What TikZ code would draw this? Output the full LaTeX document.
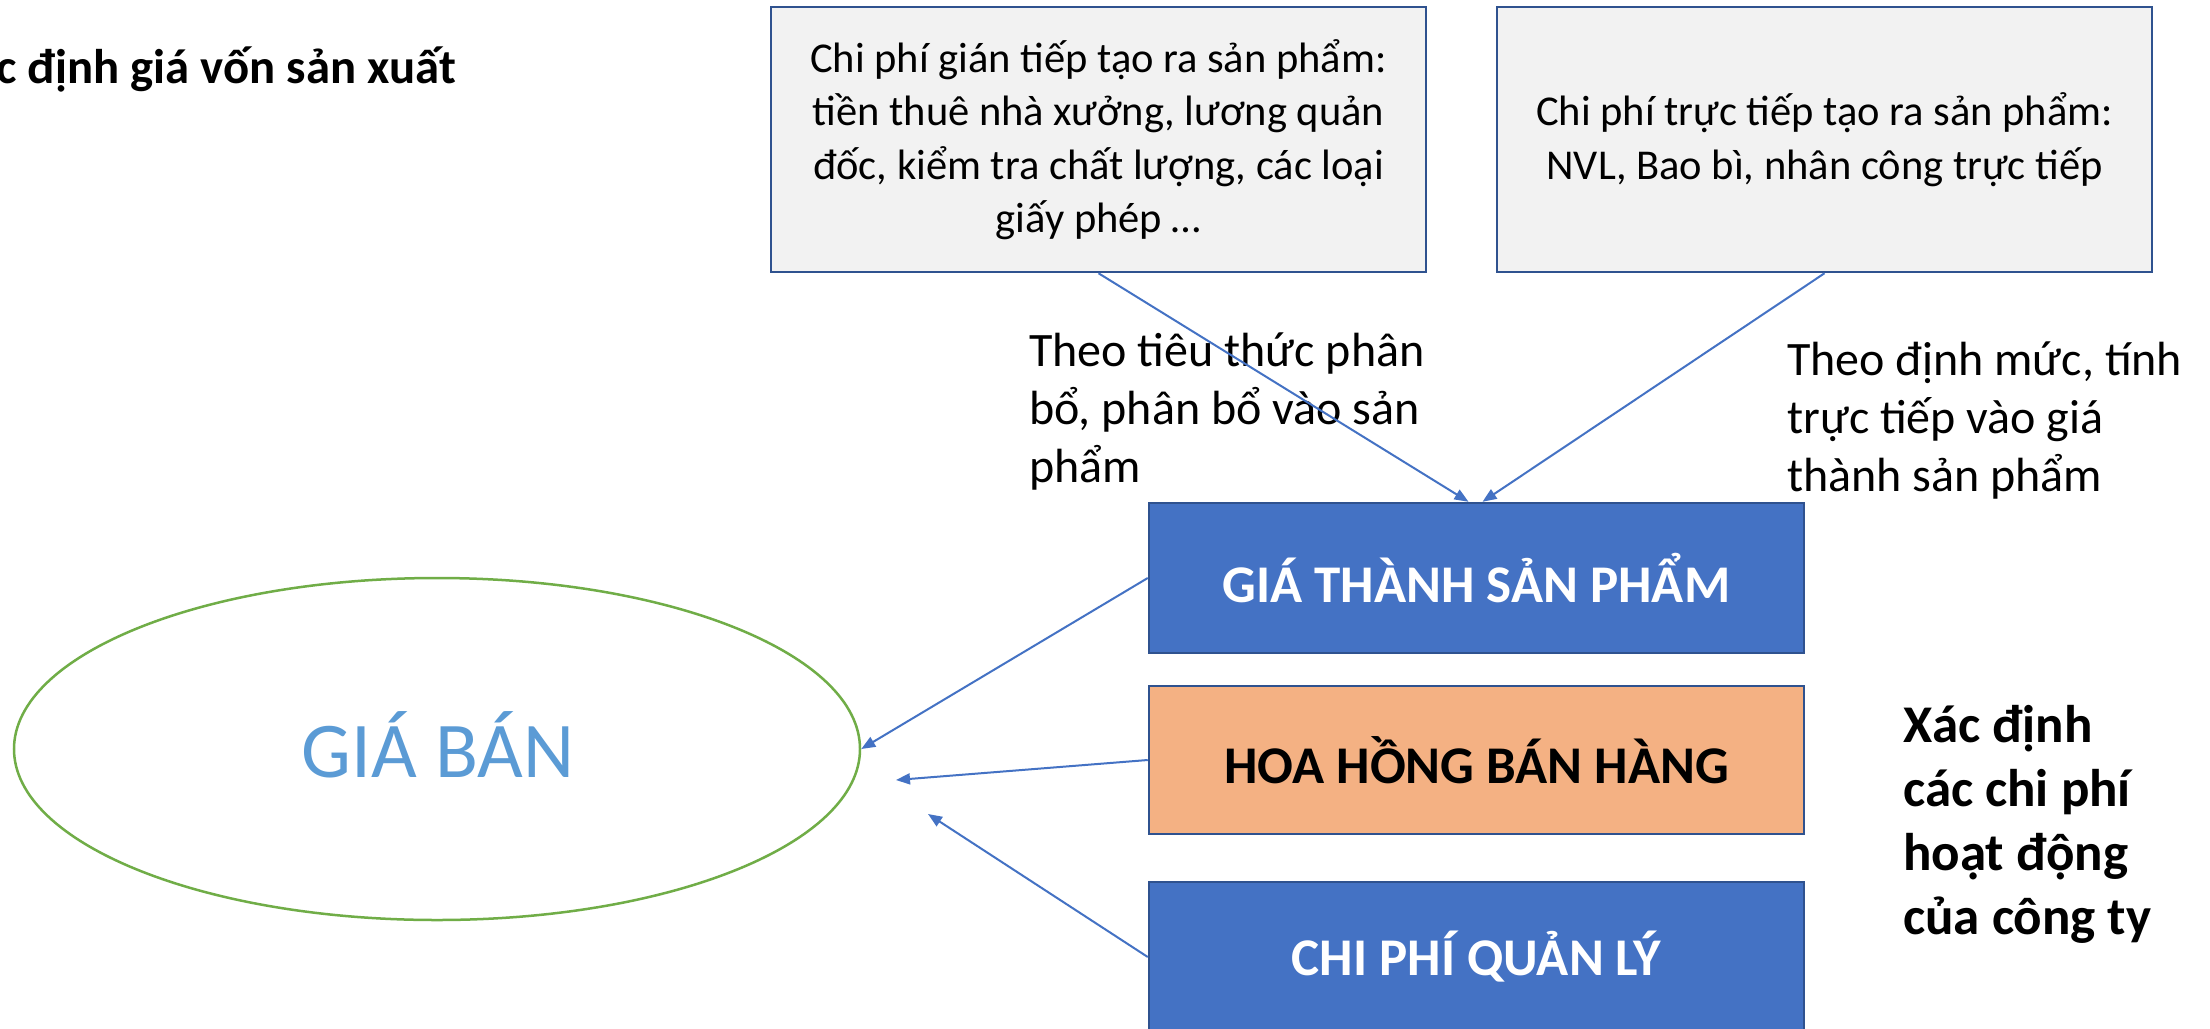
\documentclass[tikz,border=0pt]{standalone}
\usepackage{fontspec}
\setmainfont{Carlito}
\usetikzlibrary{arrows.meta,shapes.geometric}
\definecolor{boxgray}{HTML}{F2F2F2}
\definecolor{edgeblue}{HTML}{2F528F}
\definecolor{fillblue}{HTML}{4472C4}
\definecolor{fillorange}{HTML}{F4B183}
\definecolor{ellgreen}{HTML}{70AD47}
\definecolor{textblue}{HTML}{5B9BD5}
\tikzset{
  topbox/.style={draw=edgeblue, line width=2.5pt, fill=boxgray, minimum width=655pt, minimum height=265pt, inner sep=0pt, align=center, font=\fontsize{42.5}{53.5}\selectfont},
  costbox/.style={draw=edgeblue, line width=2.5pt, minimum width=655pt, minimum height=150pt, inner sep=0pt, font=\bfseries\fontsize{53}{64}\selectfont},
  conn/.style={draw=fillblue, line width=2pt, -{Triangle[length=14pt,width=11pt]}},
  lbl/.style={anchor=base west, inner sep=0pt, align=left, font=\fontsize{48}{58}\selectfont}
}
\begin{document}
\begin{tikzpicture}[x=1pt,y=-1pt]
\useasboundingbox (0,0) rectangle (2210,1028);
\clip (0,0) rectangle (2210,1028);
\fill[white] (0,0) rectangle (2210,1028);

\node[anchor=base east, inner sep=0pt, font=\bfseries\fontsize{48.7}{58}\selectfont] (title) at (456,83) {Xác định giá vốn sản xuất};

\node[topbox] (lbox) at (1098.5,139.5) {Chi phí gián tiếp tạo ra sản phẩm:\\tiền thuê nhà xưởng, lương quản\\đốc, kiểm tra chất lượng, các loại\\giấy phép …};
\node[topbox] (rbox) at (1824.5,139.5) {Chi phí trực tiếp tạo ra sản phẩm:\\NVL, Bao bì, nhân công trực tiếp};

\node[lbl] (lab1) at (1029,482) {Theo tiêu thức phân\\bổ, phân bổ vào sản\\phẩm};
\node[lbl] (lab2) at (1787,491) {Theo định mức, tính\\trực tiếp vào giá\\thành sản phẩm};

\node[costbox, fill=fillblue, text=white] (gtsp) at (1476.5,578) {GIÁ THÀNH SẢN PHẨM};
\node[costbox, fill=fillorange, text=black, minimum height=148pt] (hh) at (1476.5,760) {HOA HỒNG BÁN HÀNG};
\node[costbox, fill=fillblue, text=white] (cp) at (1476.5,957) {CHI PHÍ QUẢN LÝ};

\node[lbl, font=\bfseries\fontsize{53}{64}\selectfont] (xd) at (1903,934) {Xác định\\các chi phí\\hoạt động\\của công ty};

\node[ellipse, draw=ellgreen, line width=2.5pt, minimum width=846pt, minimum height=342pt, inner sep=0pt] (gb) at (437,749) {};
\node[anchor=base, inner sep=0pt, text=textblue, font=\fontsize{79}{90}\selectfont] (gbtext) at (438,777) {GIÁ BÁN};

\draw[conn] (lbox.south) -- ([xshift=-8pt]gtsp.north);
\draw[conn] (rbox.south) -- ([xshift=6pt]gtsp.north);
\draw[conn] (gtsp.west) -- (gb.east);
\coordinate (t2) at (896,780);
\coordinate (t3) at (928,814);
\draw[conn] (hh.west) -- (t2);
\draw[conn] (cp.west) -- (t3);
\end{tikzpicture}
\end{document}
